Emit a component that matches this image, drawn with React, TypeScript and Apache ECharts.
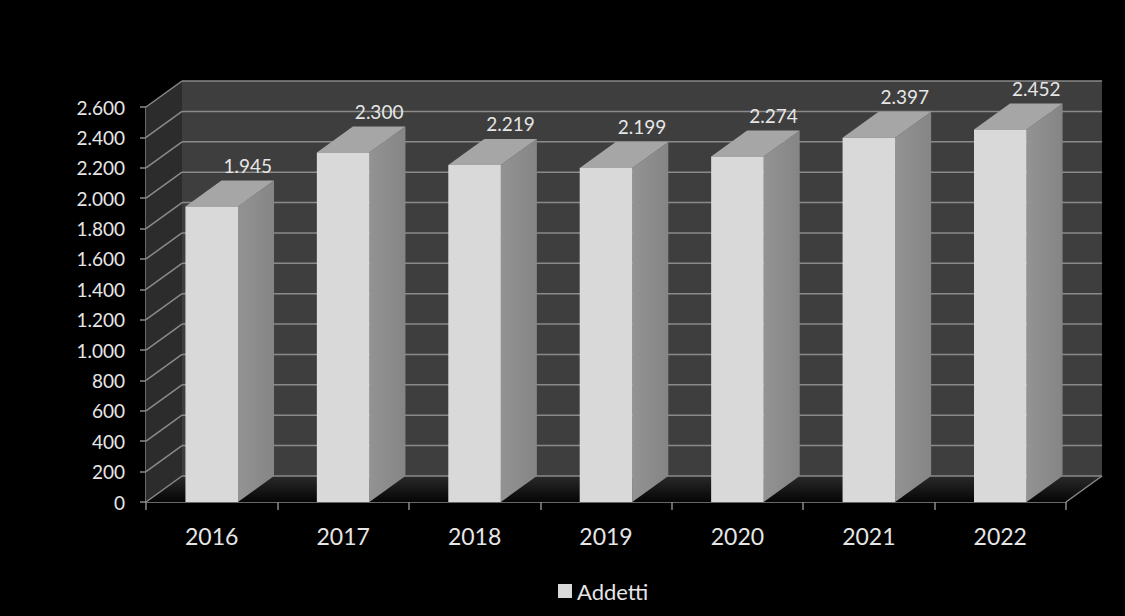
import React, { useEffect, useRef } from "react";
import * as echarts from "echarts";

const years = ["2016", "2017", "2018", "2019", "2020", "2021", "2022"];
const addetti = [1945, 2300, 2219, 2199, 2274, 2397, 2452];
const seriesName = "Addetti";
const yMin = 0;
const yMax = 2600;
const yStep = 200;

const fmt = (v: number) => String(v).replace(/\B(?=(\d{3})+(?!\d))/g, ".");

const DX = 36;
const DY = -26;
const FONT = "Lato, 'Open Sans', sans-serif";

export default function App() {
  const ref = useRef<HTMLDivElement>(null);
  useEffect(() => {
    if (!ref.current) return;
    const chart = echarts.init(ref.current, null, { renderer: "svg" });

    const bgRender = (params: any, api: any) => {
      const cs = params.coordSys;
      const L = cs.x, T = cs.y, R = cs.x + cs.width, B = cs.y + cs.height;
      const children: any[] = [];
      children.push({
        type: "polygon",
        shape: { points: [[L, B], [L, T], [L + DX, T + DY], [L + DX, B + DY]] },
        style: { fill: "#2c2c2c" },
      });
      children.push({
        type: "rect",
        shape: { x: L + DX, y: T + DY, width: R - L, height: B - T },
        style: { fill: "#3e3e3e" },
      });
      children.push({
        type: "polygon",
        shape: { points: [[L, B], [R, B], [R + DX, B + DY], [L + DX, B + DY]] },
        style: {
          fill: new echarts.graphic.LinearGradient(0, 0, 0, 1, [
            { offset: 0, color: "#2a2a2a" },
            { offset: 1, color: "#050505" },
          ]),
        },
      });
      for (let v = yMin; v <= yMax; v += yStep) {
        const y = api.coord([0, v])[1];
        children.push({
          type: "line",
          shape: { x1: L + DX, y1: y + DY, x2: R + DX, y2: y + DY },
          style: { stroke: "#8a8a8a", lineWidth: 1.5 },
        });
        children.push({
          type: "line",
          shape: { x1: L, y1: y, x2: L + DX, y2: y + DY },
          style: { stroke: "#8a8a8a", lineWidth: 1.5 },
        });
      }
      children.push({
        type: "line",
        shape: { x1: R, y1: B, x2: R + DX, y2: B + DY },
        style: { stroke: "#8a8a8a", lineWidth: 1.5 },
      });
      return { type: "group", children };
    };

    const barRender = (params: any, api: any) => {
      const idx = api.value(0);
      const val = api.value(1);
      const top = api.coord([idx, val]);
      const base = api.coord([idx, 0]);
      const band = api.size([1, 0])[0];
      const w = band * 0.4;
      const x0 = top[0] - w / 2;
      const x1 = top[0] + w / 2;
      const yT = top[1];
      const yB = base[1];
      return {
        type: "group",
        children: [
          {
            type: "polygon",
            shape: { points: [[x1, yB], [x1, yT], [x1 + DX, yT + DY], [x1 + DX, yB + DY]] },
            style: {
              fill: new echarts.graphic.LinearGradient(0, 0, 1, 0, [
                { offset: 0, color: "#939393" },
                { offset: 1, color: "#858585" },
              ]),
            },
          },
          {
            type: "polygon",
            shape: { points: [[x0, yT], [x1, yT], [x1 + DX, yT + DY], [x0 + DX, yT + DY]] },
            style: { fill: "#a6a6a6" },
          },
          {
            type: "rect",
            shape: { x: x0, y: yT, width: w, height: yB - yT },
            style: { fill: "#d9d9d9" },
          },
          {
            type: "text",
            x: top[0] + DX,
            y: yT + DY - 15,
            style: {
              text: fmt(val),
              fill: "#e6e6e6",
              font: `19px ${FONT}`,
              align: "center",
              verticalAlign: "middle",
            },
          },
        ],
      };
    };

    chart.setOption({
      animation: false,
      backgroundColor: "#000000",
      grid: { left: 146, right: 59, top: 107, bottom: 114 },
      legend: {
        data: [seriesName],
        left: 553,
        top: 575,
        icon: "rect",
        itemWidth: 14,
        itemHeight: 14,
        itemGap: 6,
        textStyle: { color: "#e6e6e6", fontSize: 22, fontFamily: FONT },
      },
      xAxis: {
        type: "category",
        data: years,
        boundaryGap: true,
        axisLine: { lineStyle: { color: "#8a8a8a", width: 1.5 } },
        axisTick: { show: true, length: 8, interval: 0, lineStyle: { color: "#8a8a8a", width: 1.5 } },
        axisLabel: { color: "#e6e6e6", fontSize: 23, fontFamily: FONT, margin: 22 },
        splitLine: { show: false },
      },
      yAxis: {
        type: "value",
        min: yMin,
        max: yMax,
        interval: yStep,
        axisLine: { show: true, lineStyle: { color: "#8a8a8a", width: 1.5 } },
        axisTick: { show: true, length: 6, lineStyle: { color: "#8a8a8a", width: 1.5 } },
        axisLabel: {
          color: "#e6e6e6",
          fontSize: 19,
          fontFamily: FONT,
          margin: 21,
          formatter: (v: number) => fmt(v),
        },
        splitLine: { show: false },
      },
      series: [
        {
          type: "custom",
          renderItem: bgRender,
          data: [[0, 0]],
          clip: false,
          z: 1,
          silent: true,
        },
        {
          type: "custom",
          name: seriesName,
          renderItem: barRender,
          data: addetti.map((v, i) => [i, v]),
          encode: { x: 0, y: 1 },
          itemStyle: { color: "#d9d9d9" },
          clip: false,
          z: 3,
        },
      ],
    });
    return () => chart.dispose();
  }, []);
  return (
    <div
      ref={ref}
      style={{ position: "fixed", left: 0, top: 0, width: 1125, height: 616, background: "#000" }}
    />
  );
}
